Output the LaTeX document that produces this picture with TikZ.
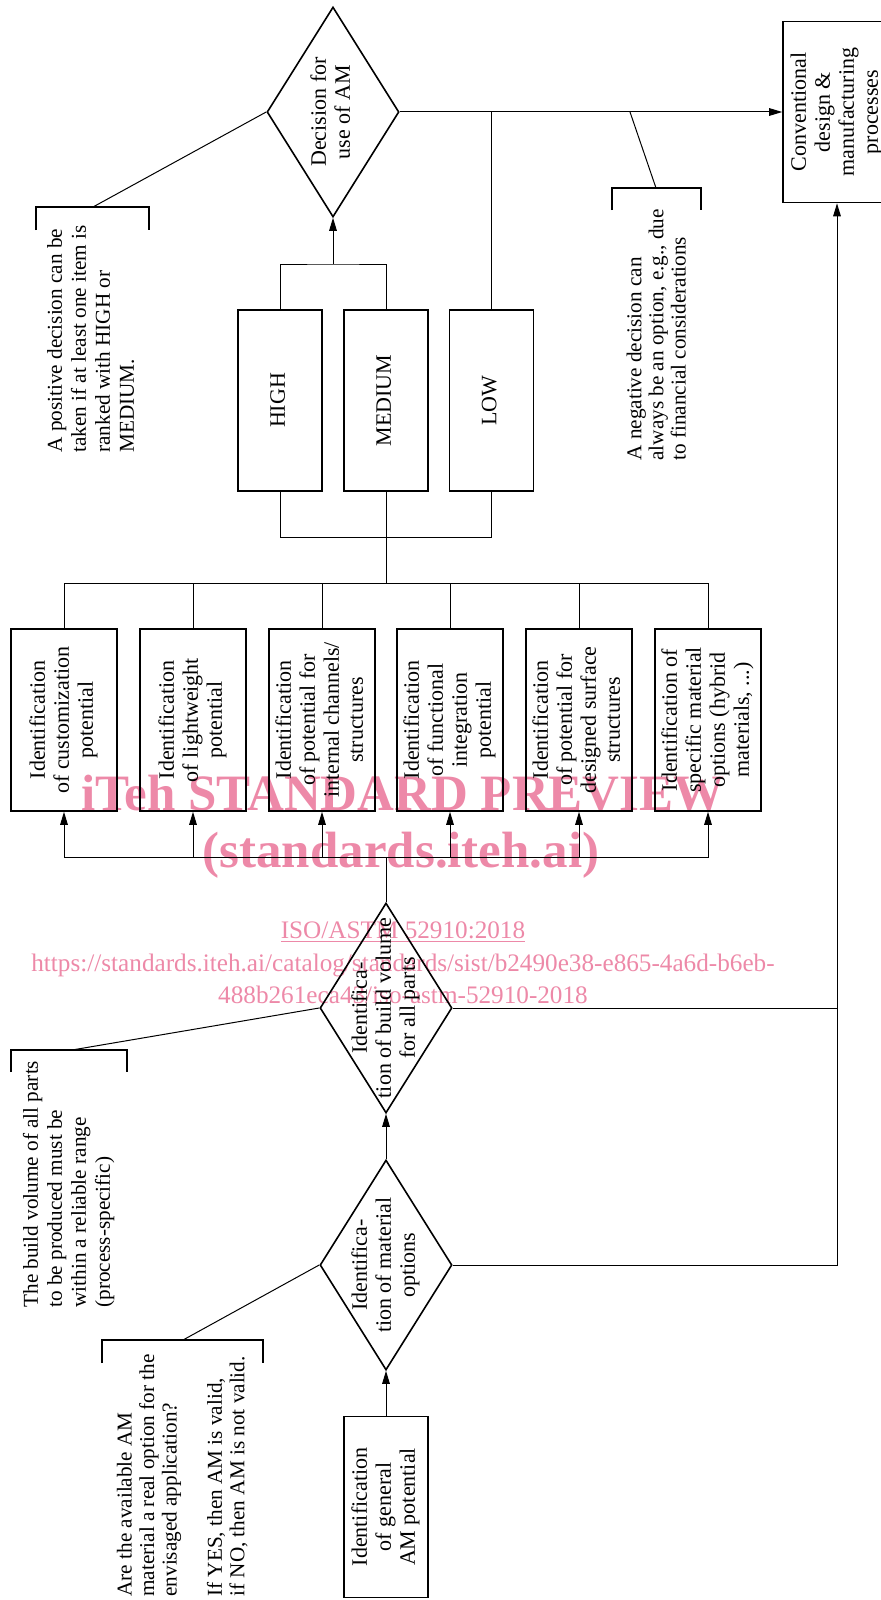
\documentclass[tikz,border=0pt]{standalone}
\usepackage{graphicx}
\usepackage{fontspec}
\setmainfont{Liberation Serif}
\usepackage{tikz}
\usetikzlibrary{arrows.meta,shapes.geometric}

\definecolor{wmpink}{RGB}{237,137,168}
\newcommand{\vtext}[1]{\rotatebox{90}{\begin{tabular}{@{}c@{}}#1\end{tabular}}}
\newcommand{\vnote}[2][1]{\rotatebox{90}{\def\arraystretch{#1}\begin{tabular}{@{}l@{}}#2\end{tabular}}}

\begin{document}
\begin{tikzpicture}[
                            x=0.5pt, y=-0.5pt,
                            >={Triangle[length=6.5pt,width=3.8pt]},
                            font=\fontsize{11pt}{12pt}\selectfont,
                            line width=0.5pt
                        ]
                        \tikzstyle{box}=[draw, line width=0.8pt, minimum width=53pt, minimum height=91pt, inner sep=0pt]
                        \tikzstyle{rank}=[box, minimum width=42pt, minimum height=90.5pt]
                        \tikzstyle{decision}=[draw, diamond, line width=0.8pt, minimum width=66pt, minimum height=105pt, inner sep=0pt]
                        \tikzstyle{note}=[inner sep=0pt, anchor=south, font=\fontsize{10.6pt}{12pt}\selectfont]
                        \tikzstyle{bracket}=[line width=0.8pt]
                        \tikzstyle{wmark}=[text=wmpink, inner sep=0pt, anchor=base]

                        \useasboundingbox (0,0) rectangle (881,1600);

                        % watermark
                        \node[wmark, font=\bfseries\fontsize{25.5pt}{30pt}\selectfont] (W1) at (403,810) {iTeh STANDARD PREVIEW};
                        \node[wmark, font=\bfseries\fontsize{25.5pt}{30pt}\selectfont] (W2) at (401,867) {(standards.iteh.ai)};
                        \node[wmark, font=\fontsize{12.6pt}{16pt}\selectfont] (W3) at (403,938) {\underline{ISO/ASTM 52910:2018}};
                        \node[wmark, font=\fontsize{12.6pt}{16pt}\selectfont] (W4) at (403,971) {https://standards.iteh.ai/catalog/standards/sist/b2490e38-e865-4a6d-b6eb-};
                        \node[wmark, font=\fontsize{12.6pt}{16pt}\selectfont] (W5) at (403,1003) {488b261eca43/iso-astm-52910-2018};

                        \node[rank]     (A)  at (386,1507) {\vtext{Identification\\of general\\AM potential}};
                        \node[decision] (B)  at (386,1265) {};
                        \node           (Bt) at (B)        {\vtext{Identifica-\\tion of material\\options}};
                        \node[decision] (C)  at (386,1008) {};
                        \node           (Ct) at (C)        {\vtext{Identifica-\\tion of build volume\\for all parts}};

                        \node[box] (D1) at (64,720)  {\vtext{Identification\\of customization\\potential}};
                        \node[box] (D2) at (193,720) {\vtext{Identification\\of lightweight\\potential}};
                        \node[box] (D3) at (322,720) {\vtext{Identification\\of potential for\\internal channels/\\structures}};
                        \node[box] (D4) at (450,720) {\vtext{Identification\\of functional\\integration\\potential}};
                        \node[box] (D5) at (579,720) {\vtext{Identification\\of potential for\\designed surface\\structures}};
                        \node[box] (D6) at (708,720) {\vtext{Identification of\\specific material\\options (hybrid\\materials, ...)}};

                        \node[rank] (H) at (280,400.5)   {\vtext{HIGH}};
                        \node[rank] (M) at (386,400.5)   {\vtext{MEDIUM}};
                        \node[rank] (L) at (491.5,400.5) {\vtext{LOW}};

                        \node[decision] (E)  at (333,112) {};
                        \node           (Et) at (E)       {\vtext{Decision for\\use of AM}};
                        \node[box, minimum width=54pt, minimum height=90.5pt] (F) at (837,112) {\vtext{Conventional\\design \&\\manufacturing\\processes}};

                        \coordinate (lo)   at (386,857);
                        \coordinate (up)   at (386,583);
                        \coordinate (join) at (333,264);

                        \draw[->] (A) -- (B);
                        \draw[->] (B) -- (C);
                        \draw (C.north) -- (lo);
                        \foreach \n in {1,...,6}
                            \draw[->] (lo) -| (D\n.south);
                        \foreach \n in {1,...,6}
                            \draw (up) -| (D\n.north);
                        \draw (M.south) -- (up);
                        \draw (H.south) -- ++(0,46) -| (L.south);
                        \draw (H.north) |- (join) -| (M.north);
                        \draw[->] (join) -- (E.south);
                        \draw[->] (E.east) -- (F.west);
                        \draw (L.north) -- (L.north |- E.east);
                        \draw (C.east) -- (C.east -| F.south);
                        \draw[->] (B.east) -| (F.south);

                        % notes
                        \node[note] (N1) at (93,453)   {\vnote{A positive decision can be\\taken if at least one item is\\ranked with HIGH or\\MEDIUM.}};
                        \node[note] (N2) at (659,461)  {\vnote[0.92]{A negative decision can\\always be an option, e.g., due\\to financial considerations}};
                        \node[note] (N3) at (69,1308)  {\vnote{The build volume of all parts\\to be produced must be\\within a reliable range\\(process-specific)}};
                        \node[note] (N4) at (183.4,1597) {\vnote[0.94]{Are the available AM\\material a real option for the\\envisaged application?\\ \\If YES, then AM is valid,\\if NO, then AM is not valid.}};

                        \coordinate (p1) at (93,207);
                        \coordinate (p2) at (656,188);
                        \coordinate (q2) at (630,112);
                        \coordinate (p3) at (72,1050);
                        \coordinate (p4) at (183,1340);

                        \draw[bracket] (36,230) |- (149,207) -- (149,230);
                        \draw[bracket] (612,210) |- (701,188) -- (701,210);
                        \draw[bracket] (11,1072) |- (127,1050) -- (127,1072);
                        \draw[bracket] (102,1363) |- (263,1340) -- (263,1363);

                        \draw (p1) -- (E.west);
                        \draw (p2) -- (q2);
                        \draw (p3) -- (C.west);
                        \draw (p4) -- (B.west);
                    \end{tikzpicture}
\end{document}
